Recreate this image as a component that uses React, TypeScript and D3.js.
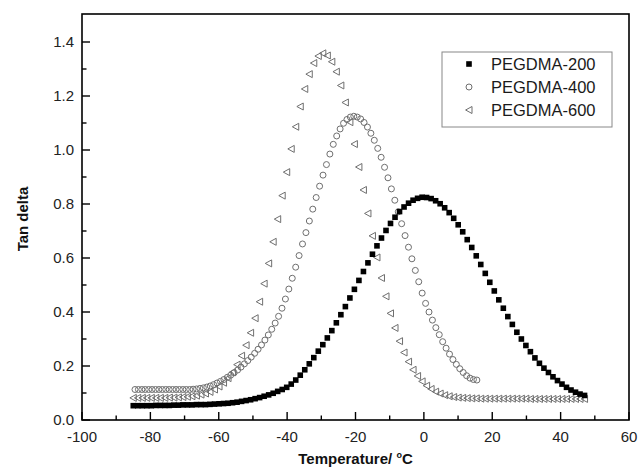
import React from "react";
import * as d3 from "d3";

// Temperatures (°C) for PEGDMA-200 and PEGDMA-600
const tempsA = [
  -85.0, -83.68, -82.36, -81.04, -79.72, -78.4, -77.08, -75.76, -74.44, -73.12,
  -71.8, -70.48, -69.16, -67.84, -66.52, -65.2, -63.88, -62.56, -61.24, -59.92,
  -58.6, -57.28, -55.96, -54.64, -53.32, -52.0, -50.68, -49.36, -48.04, -46.72,
  -45.4, -44.08, -42.76, -41.44, -40.12, -38.8, -37.48, -36.16, -34.84, -33.52,
  -32.2, -30.88, -29.56, -28.24, -26.92, -25.6, -24.28, -22.96, -21.64, -20.32,
  -19.0, -17.68, -16.36, -15.04, -13.72, -12.4, -11.08, -9.76, -8.44, -7.12,
  -5.8, -4.48, -3.16, -1.84, -0.52, 0.8, 2.12, 3.44, 4.76, 6.08,
  7.4, 8.72, 10.04, 11.36, 12.68, 14.0, 15.32, 16.64, 17.96, 19.28,
  20.6, 21.92, 23.24, 24.56, 25.88, 27.2, 28.52, 29.84, 31.16, 32.48,
  33.8, 35.12, 36.44, 37.76, 39.08, 40.4, 41.72, 43.04, 44.36, 45.68, 47.0,
];

const tan200 = [
  0.053, 0.053, 0.053, 0.053, 0.053, 0.054, 0.054, 0.054, 0.054, 0.055,
  0.055, 0.056, 0.056, 0.056, 0.057, 0.057, 0.057, 0.058, 0.059, 0.06,
  0.061, 0.062, 0.064, 0.066, 0.069, 0.072, 0.075, 0.079, 0.083, 0.088,
  0.093, 0.099, 0.106, 0.113, 0.121, 0.133, 0.148, 0.166, 0.186, 0.208,
  0.231, 0.255, 0.279, 0.304, 0.331, 0.36, 0.39, 0.42, 0.452, 0.484,
  0.517, 0.55, 0.582, 0.614, 0.645, 0.674, 0.702, 0.728, 0.751, 0.772,
  0.789, 0.803, 0.814, 0.821, 0.825, 0.824, 0.82, 0.812, 0.801, 0.786,
  0.768, 0.747, 0.723, 0.697, 0.668, 0.639, 0.608, 0.576, 0.543, 0.51,
  0.478, 0.445, 0.414, 0.383, 0.354, 0.325, 0.3, 0.276, 0.253, 0.23,
  0.21, 0.192, 0.176, 0.16, 0.146, 0.133, 0.121, 0.111, 0.103, 0.096, 0.091,
];

const tan600 = [
  0.082, 0.082, 0.082, 0.082, 0.082, 0.082, 0.082, 0.082, 0.083, 0.083,
  0.084, 0.085, 0.086, 0.088, 0.09, 0.094, 0.098, 0.104, 0.113, 0.124,
  0.138, 0.155, 0.177, 0.205, 0.238, 0.277, 0.323, 0.377, 0.438, 0.505,
  0.58, 0.66, 0.744, 0.831, 0.918, 1.004, 1.086, 1.161, 1.226, 1.281,
  1.322, 1.348, 1.358, 1.35, 1.327, 1.29, 1.239, 1.176, 1.103, 1.022,
  0.937, 0.852, 0.765, 0.682, 0.602, 0.526, 0.458, 0.395, 0.341, 0.292,
  0.25, 0.216, 0.186, 0.163, 0.143, 0.127, 0.115, 0.105, 0.098, 0.092,
  0.088, 0.085, 0.083, 0.082, 0.081, 0.08, 0.08, 0.079, 0.079, 0.079,
  0.079, 0.079, 0.079, 0.079, 0.079, 0.079, 0.079, 0.079, 0.078, 0.078,
  0.078, 0.078, 0.078, 0.078, 0.078, 0.078, 0.078, 0.078, 0.078, 0.078, 0.078,
];

// Temperatures (°C) for PEGDMA-400
const tempsB = [
  -84.5, -83.5, -82.5, -81.5, -80.5, -79.5, -78.5, -77.5, -76.5, -75.5,
  -74.5, -73.5, -72.5, -71.5, -70.5, -69.5, -68.5, -67.5, -66.5, -65.5,
  -64.5, -63.5, -62.5, -61.5, -60.5, -59.5, -58.5, -57.5, -56.5, -55.5,
  -54.5, -53.5, -52.5, -51.5, -50.5, -49.5, -48.5, -47.5, -46.5, -45.5,
  -44.5, -43.5, -42.5, -41.5, -40.5, -39.5, -38.5, -37.5, -36.5, -35.5,
  -34.5, -33.5, -32.5, -31.5, -30.5, -29.5, -28.5, -27.5, -26.5, -25.5,
  -24.5, -23.5, -22.5, -21.5, -20.5, -19.5, -18.5, -17.5, -16.5, -15.5,
  -14.5, -13.5, -12.5, -11.5, -10.5, -9.5, -8.5, -7.5, -6.5, -5.5,
  -4.5, -3.5, -2.5, -1.5, -0.5, 0.5, 1.5, 2.5, 3.5, 4.5,
  5.5, 6.5, 7.5, 8.5, 9.5, 10.5, 11.5, 12.5, 13.5, 14.5, 15.5,
];

const tan400 = [
  0.113, 0.113, 0.113, 0.113, 0.113, 0.113, 0.113, 0.113, 0.113, 0.113,
  0.113, 0.113, 0.113, 0.113, 0.113, 0.113, 0.113, 0.114, 0.115, 0.117,
  0.119, 0.122, 0.126, 0.131, 0.137, 0.143, 0.15, 0.158, 0.166, 0.175,
  0.185, 0.196, 0.208, 0.22, 0.233, 0.247, 0.262, 0.278, 0.296, 0.315,
  0.336, 0.359, 0.384, 0.414, 0.448, 0.485, 0.525, 0.566, 0.609, 0.652,
  0.694, 0.737, 0.781, 0.824, 0.866, 0.907, 0.946, 0.985, 1.021, 1.052,
  1.078, 1.099, 1.113, 1.122, 1.125, 1.122, 1.115, 1.102, 1.085, 1.062,
  1.036, 1.006, 0.973, 0.936, 0.897, 0.856, 0.814, 0.771, 0.727, 0.683,
  0.64, 0.597, 0.554, 0.512, 0.47, 0.432, 0.4, 0.37, 0.342, 0.316,
  0.29, 0.266, 0.244, 0.224, 0.206, 0.19, 0.176, 0.164, 0.155, 0.15, 0.148,
];

const xTicks = [-100, -80, -60, -40, -20, 0, 20, 40, 60];
const xMinor = [-90, -70, -50, -30, -10, 10, 30, 50];
const yTicks = [0.0, 0.2, 0.4, 0.6, 0.8, 1.0, 1.2, 1.4];
const yMinor = [0.1, 0.3, 0.5, 0.7, 0.9, 1.1, 1.3];
const seriesNames = ["PEGDMA-200", "PEGDMA-400", "PEGDMA-600"];

const W = 638;
const H = 467;
const L = 82, R = 629, T = 14, B = 420;
const FONT = "Arial, 'Liberation Sans', Helvetica, sans-serif";
const GREY = "#6f6f6f";

const x = d3.scaleLinear().domain([-100, 60]).range([L, R]);
const y = d3.scaleLinear().domain([0, 1.5]).range([B, T + 1]);

const square = (cx: number, cy: number, key: string) => (
  <rect key={key} x={cx - 2.8} y={cy - 2.8} width={5.6} height={5.6} fill="#000" />
);
const circle = (cx: number, cy: number, key: string) => (
  <circle key={key} cx={cx} cy={cy} r={3} fill="none" stroke={GREY} strokeWidth={1} />
);
const tri = (cx: number, cy: number, key: string) => (
  <path
    key={key}
    d={`M${cx - 3.4},${cy} L${cx + 3},${cy - 3.5} L${cx + 3},${cy + 3.5} Z`}
    fill="none"
    stroke={GREY}
    strokeWidth={1}
  />
);

export default function App() {
  const lx = 469;
  const ly = [64, 87, 110];
  return (
    <svg
      width={W}
      height={H}
      style={{ position: "absolute", left: 0, top: 0, background: "#fff" }}
      fontFamily={FONT}
    >
      <rect x={0} y={0} width={W} height={H} fill="#fff" />
      {/* data */}
      {tempsA.map((t, i) => tri(x(t), y(tan600[i]), "t" + i))}
      {tempsB.map((t, i) => circle(x(t), y(tan400[i]), "c" + i))}
      {tempsA.map((t, i) => square(x(t), y(tan200[i]), "s" + i))}

      {/* frame */}
      <rect x={L} y={T} width={R - L} height={B - T} fill="none" stroke="#000" strokeWidth={1.6} />

      {/* x ticks */}
      {xTicks.map((v) => (
        <g key={"xt" + v}>
          <line x1={x(v)} x2={x(v)} y1={B} y2={B - 8} stroke="#000" strokeWidth={1.4} />
          <text x={x(v)} y={442} textAnchor="middle" fontSize={15} fill="#222">
            {v}
          </text>
        </g>
      ))}
      {xMinor.map((v) => (
        <line key={"xm" + v} x1={x(v)} x2={x(v)} y1={B} y2={B - 4.5} stroke="#000" strokeWidth={1.4} />
      ))}
      {/* y ticks */}
      {yTicks.map((v) => (
        <g key={"yt" + v}>
          <line x1={L} x2={L + 8} y1={y(v)} y2={y(v)} stroke="#000" strokeWidth={1.4} />
          <text x={74} y={y(v) + 5.3} textAnchor="end" fontSize={15} fill="#222">
            {v.toFixed(1)}
          </text>
        </g>
      ))}
      {yMinor.map((v) => (
        <line key={"ym" + v} x1={L} x2={L + 4.5} y1={y(v)} y2={y(v)} stroke="#000" strokeWidth={1.4} />
      ))}

      {/* axis titles */}
      <text
        transform={`translate(28,${(T + B) / 2 + 2}) rotate(-90)`}
        textAnchor="middle"
        fontSize={15}
        fontWeight="bold"
        fill="#111"
      >
        Tan delta
      </text>
      <text x={(L + R) / 2} y={464} textAnchor="middle" fontSize={15} fontWeight="bold" fill="#111">
        Temperature/ <tspan fontSize={9} dy={-6}>o</tspan>
        <tspan dy={6}>C</tspan>
      </text>

      {/* legend */}
      <rect x={442} y={52} width={170} height={75} fill="#fff" stroke="#888" strokeWidth={1} />
      {square(lx, ly[0], "l0")}
      {circle(lx, ly[1], "l1")}
      {tri(lx, ly[2], "l2")}
      {seriesNames.map((n, i) => (
        <text key={n} x={491} y={ly[i] + 5.8} fontSize={16.5} fill="#1a1a1a">
          {n}
        </text>
      ))}
    </svg>
  );
}
